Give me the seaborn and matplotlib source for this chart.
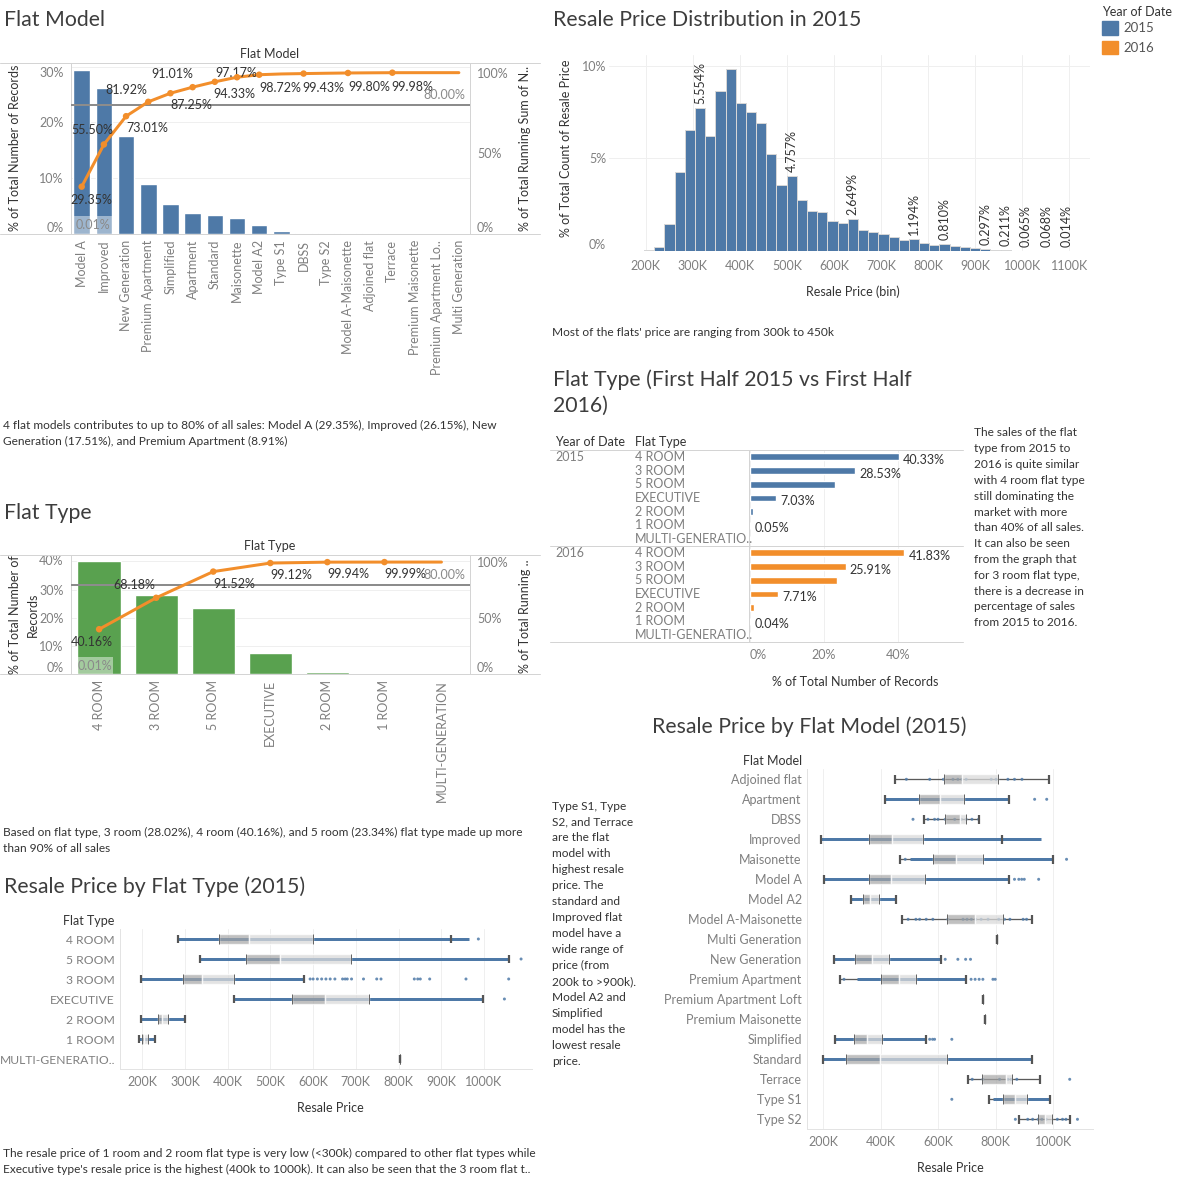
import numpy as np
import pandas as pd
import matplotlib
matplotlib.use("Agg")
import matplotlib.pyplot as plt
import matplotlib.transforms as mtransforms
from matplotlib.lines import Line2D
from matplotlib.patches import Rectangle
import seaborn as sns

# ---------------- data ----------------
model_names = ["Model A", "Improved", "New Generation", "Premium Apartment", "Simplified",
               "Apartment", "Standard", "Maisonette", "Model A2", "Type S1", "DBSS", "Type S2",
               "Model A-Maisonette", "Adjoined flat", "Terrace", "Premium Maisonette",
               "Premium Apartment Lo..", "Multi Generation"]
model_share = [29.35, 26.15, 17.51, 8.91, 5.33, 3.76, 3.32, 2.84, 1.55, 0.48, 0.23, 0.20,
               0.17, 0.10, 0.08, 0.01, 0.005, 0.005]
model_labeled = [0, 1, 2, 3, 4, 5, 6, 7, 8, 10, 12, 14]

type_names = ["4 ROOM", "3 ROOM", "5 ROOM", "EXECUTIVE", "2 ROOM", "1 ROOM", "MULTI-GENERATION"]
type_share = [40.16, 28.02, 23.34, 7.60, 0.82, 0.05, 0.01]
type_labeled = [0, 1, 2, 3, 4, 5]

hist_bin_start = 196.2     # K
hist_bin_width = 21.66     # K
hist_pct = [0.03, 0.20, 1.46, 4.24, 6.51, 7.70, 6.19, 8.61, 9.80, 7.97, 7.48, 6.89, 5.25,
            3.54, 4.03, 2.73, 2.14, 2.09, 1.60, 1.49, 1.74, 1.12, 1.01, 0.92, 0.74, 0.59,
            0.63, 0.41, 0.31, 0.36, 0.25, 0.20, 0.14, 0.09, 0.05, 0.05, 0.02, 0.02, 0.0,
            0.02, 0.0, 0.01]
hist_label_bins = [5, 14, 20, 26, 29, 33, 35, 37, 39, 41]
hist_label_text = ["5.554%", "4.757%", "2.649%", "1.194%", "0.810%", "0.297%", "0.211%",
                   "0.065%", "0.068%", "0.014%"]

half_years = ["2015", "2016"]
half_types = ["4 ROOM", "3 ROOM", "5 ROOM", "EXECUTIVE", "2 ROOM", "1 ROOM", "MULTI-GENERATIO.."]
half_2015 = [40.33, 28.53, 23.10, 7.03, 0.93, 0.05, 0.03]
half_2016 = [41.83, 25.91, 23.45, 7.71, 1.04, 0.04, 0.02]
half_labeled = [0, 1, 3, 5]

bt_names = ["4 ROOM", "5 ROOM", "3 ROOM", "EXECUTIVE", "2 ROOM", "1 ROOM", "MULTI-GENERATIO.."]
bt_low = [284, 335, 198, 415, 198, 193, 803]
bt_q1 = [379, 442, 295, 550, 236, 200, 803]
bt_med = [450, 523, 340, 628, 245, 205, 803]
bt_q3 = [599, 689, 414, 732, 261, 214, 803]
bt_high = [923, 1059, 579, 998, 301, 230, 803]
bt_band_lo = [284, 335, 198, 415, 198, 193, None]
bt_band_hi = [964, 1059, 579, 998, 301, 230, None]
bt_points = [[987], [1087],
             [593, 600, 610, 620, 630, 640, 651, 669, 675, 680, 690, 718, 749, 759, 837, 845,
              851, 873, 958, 1058],
             [1048], [], [], []]

bm_names = ["Adjoined flat", "Apartment", "DBSS", "Improved", "Maisonette", "Model A",
            "Model A2", "Model A-Maisonette", "Multi Generation", "New Generation",
            "Premium Apartment", "Premium Apartment Loft", "Premium Maisonette", "Simplified",
            "Standard", "Terrace", "Type S1", "Type S2"]
bm_low = [449, 414, 549, 192, 468, 203, 296, 475, 803, 237, 258, 756, 762, 239, 198, 705, 777, 879]
bm_q1 = [620, 533, 624, 360, 581, 360, 339, 631, 803, 311, 401, 756, 762, 308, 280, 751, 824, 947]
bm_med = [681, 605, 677, 440, 662, 437, 364, 729, 803, 369, 462, 756, 762, 351, 397, 836, 865, 970]
bm_q3 = [807, 688, 695, 547, 755, 554, 394, 824, 803, 429, 523, 756, 762, 405, 630, 857, 907, 994]
bm_high = [984, 847, 743, 822, 998, 847, 452, 926, 803, 609, 697, 756, 762, 556, 926, 955, 988, 1058]
bm_band_lo = [None, 414, None, 192, 500, 203, 296, None, None, 237, 316, None, None, 239, 198, None, 790, None]
bm_band_hi = [None, 847, None, 957, 998, 847, 452, None, None, 609, 697, None, None, 556, 926, None, 986, None]
bm_points = [[489, 570, 618, 651, 668, 682, 697, 784, 801, 842, 865, 891],
             [935, 977],
             [512, 564, 587, 599, 624, 657, 680, 697, 717, 740],
             [],
             [485, 1046],
             [865, 880, 890, 899, 949],
             [],
             [495, 522, 535, 558, 581, 633, 686, 700, 715, 730, 749, 773, 810, 830, 849, 895, 907],
             [],
             [624, 668, 695, 712],
             [272, 714, 728, 742, 755, 790, 798],
             [], [],
             [570, 580, 587, 647],
             [],
             [718, 755, 813, 842, 853, 873, 1057],
             [647],
             [868, 911, 928, 947, 960, 975, 1014, 1032, 1044, 1084]]

# ---------------- style ----------------
BLUE, ORANGE, GREEN = "#4e79a7", "#f28e2b", "#59a14f"
TXT, GRAY, LINE, GRID = "#333333", "#7f7f7f", "#d4d4d4", "#efefef"
BODY = 8.6
sns.set_theme(style="white")
plt.rcParams["font.family"] = ["Lato", "DejaVu Sans"]

fig = plt.figure(figsize=(11.84, 11.84), dpi=100)
W = H = 1184.0
PX = 0.72  # points per pixel


def R(x0, y0, x1, y1):
    return [x0 / W, 1 - y1 / H, (x1 - x0) / W, (y1 - y0) / H]


def T(x, y, s, **kw):
    kw.setdefault("color", TXT)
    kw.setdefault("fontsize", BODY)
    kw.setdefault("va", "center")
    fig.text(x / W, 1 - y / H, s, **kw)


def L(x0, y0, x1, y1, color=LINE, lw=1.0):
    fig.add_artist(Line2D([x0 / W, x1 / W], [1 - y0 / H, 1 - y1 / H], color=color,
                          lw=lw * PX, transform=fig.transFigure))


def pareto(box, names, share, labeled, offsets, color, lmax, lticks, rmax, width, hl,
           top_va, header, header_y):
    x0, y0, x1, y1 = box
    ax = fig.add_axes(R(*box))
    n = len(names)
    df = pd.DataFrame({"name": names, "share": share})
    sns.barplot(data=df, x="name", y="share", order=names, color=color, saturation=1,
                width=width, ax=ax)
    run = np.cumsum(share)
    ax.set_ylim(0, lmax)
    ax.set_yticks(lticks)
    ax.set_yticklabels([f"{t}%" for t in lticks])
    ax.set_xticks(range(n))
    ax.set_xticklabels(names, rotation=90)
    ax.set_xticks(np.arange(n + 1) - 0.5, minor=True)
    ax.tick_params(axis="x", which="major", length=0, pad=6 * PX, labelsize=9, labelcolor=GRAY)
    ax.tick_params(axis="x", which="minor", length=4, width=PX, color="#e3e3e3")
    ax.tick_params(axis="y", length=0, pad=7 * PX, labelsize=9, labelcolor=GRAY)
    labs = ax.get_yticklabels()
    labs[0].set_va("bottom")
    labs[-1].set_va(top_va)
    ax.yaxis.grid(True, color=GRID, lw=PX)
    ax.xaxis.grid(False)
    ax.set_axisbelow(True)
    ax.set_xlabel("")
    ax.set_ylabel("")
    for s in ax.spines.values():
        s.set_color(LINE)
        s.set_linewidth(PX)
    ax.add_patch(Rectangle((hl[0], 0), hl[1] - hl[0], hl[2], facecolor="white", alpha=0.45,
                           edgecolor="none", zorder=5))
    ax.text((hl[0] + hl[1]) / 2, hl[2] / 2, "0.01%", ha="center", va="center", fontsize=9,
            color="#8a8a8a", zorder=6)

    ax2 = ax.twinx()
    sns.lineplot(x=np.arange(n), y=run, ax=ax2, color=ORANGE, linewidth=3 * PX)
    idx = np.array(labeled)
    sns.scatterplot(x=idx, y=run[idx], ax=ax2, color=ORANGE, s=(6.5 * PX) ** 2,
                    edgecolor="none", zorder=4)
    ax2.axhline(80, color="#8c8c8c", lw=2 * PX, zorder=1)
    ax2.set_ylim(0, rmax)
    ax2.set_yticks([0, 50, 100])
    ax2.set_yticklabels(["0%", "50%", "100%"])
    ax2.tick_params(axis="y", length=0, pad=7 * PX, labelsize=9, labelcolor=GRAY)
    ax2.get_yticklabels()[0].set_va("bottom")
    ax2.set_xlabel("")
    ax2.set_ylabel("")
    for s in ax2.spines.values():
        s.set_visible(False)
    for k, (dx, dy) in zip(labeled, offsets):
        ax2.annotate(f"{run[k]:.2f}%", (k, run[k]), xytext=(dx * PX, -dy * PX),
                     textcoords="offset points", ha="center", va="center", fontsize=9,
                     color=TXT)
    ax2.annotate("80.00%", xy=(1, 80), xycoords=("axes fraction", "data"),
                 xytext=(-5 * PX, 9.5 * PX), textcoords="offset points", ha="right",
                 va="center", fontsize=9, color="#8a8a8a")
    ax.set_xlim(-0.5, n - 0.5)
    L(0, y0, 540, y0)
    L(0, y1, 540, y1)
    T(270, header_y, header, ha="center", fontsize=9)
    return ax


def boxes(box, names, low, q1, med, q3, high, blo, bhi, pts, xlim, ticks, header, header_x,
          header_y, rowsize=9):
    ax = fig.add_axes(R(*box))
    n = len(names)
    for i in range(n):
        if blo[i] is not None:
            ax.hlines(i, blo[i], bhi[i], color=BLUE, lw=3.0 * PX, zorder=3)
        ax.hlines(i, low[i], high[i], color="#5a5a5a", lw=1.3 * PX, zorder=2)
        ax.barh(i, med[i] - q1[i], left=q1[i], height=0.5, color="#a6a6a6", alpha=0.7,
                zorder=5)
        ax.barh(i, q3[i] - med[i], left=med[i], height=0.5, color="#dadada", alpha=0.75,
                zorder=5)
        ax.vlines([q1[i], q3[i]], i - 0.25, i + 0.25, color="#666666", lw=1 * PX, zorder=6)
        ax.vlines([low[i], high[i]], i - 0.22, i + 0.22, color="#555555", lw=2.2 * PX,
                  zorder=6)
    px_, py_ = [], []
    for i, p in enumerate(pts):
        px_ += list(p)
        py_ += [i] * len(p)
    dpts = pd.DataFrame({"price": px_, "row": py_})
    sns.scatterplot(data=dpts, x="price", y="row", ax=ax, color=BLUE, s=(3 * PX) ** 2,
                    edgecolor="none", alpha=0.85, zorder=4)
    ax.set_xlim(*xlim)
    ax.set_ylim(n - 0.5, -0.5)
    ax.set_yticks(range(n))
    ax.set_yticklabels(names)
    ax.set_xticks(ticks)
    ax.set_xticklabels([f"{t}K" for t in ticks])
    ax.tick_params(axis="y", length=0, pad=5 * PX, labelsize=rowsize, labelcolor=GRAY)
    ax.tick_params(axis="x", length=0, pad=7 * PX, labelsize=9, labelcolor=GRAY)
    ax.xaxis.grid(True, color=GRID, lw=PX)
    ax.yaxis.grid(False)
    ax.set_axisbelow(True)
    ax.set_xlabel("")
    ax.set_ylabel("")
    for k in ["top", "right"]:
        ax.spines[k].set_visible(False)
    for k in ["left", "bottom"]:
        ax.spines[k].set_color("#e3e3e3")
        ax.spines[k].set_linewidth(PX)
    T(header_x, header_y, header, ha="right", fontsize=9)
    return ax


# ---------------- titles ----------------
TITLE = dict(fontsize=15.3, color="#3d3d3d")
T(4, 20.5, "Flat Model", **TITLE)
T(553, 20.5, "Resale Price Distribution in 2015", **TITLE)
T(553, 380, "Flat Type (First Half 2015 vs First Half", **TITLE)
T(553, 406, "2016)", **TITLE)
T(4, 513, "Flat Type", **TITLE)
T(4, 887, "Resale Price by Flat Type (2015)", **TITLE)
T(652, 727, "Resale Price by Flat Model (2015)", **TITLE)

# ---------------- Pareto: flat model ----------------
pareto((70.6, 63.3, 470, 234), model_names, model_share, model_labeled,
       [(10, 13), (-12, -14), (21, 12), (-22, -12), (21, 12), (-20, -13), (20, 12), (-1, -4),
        (21, 13), (20, 14), (21, 14), (20, 14)],
       BLUE, 30.6, [0, 10, 20, 30], 105.8, 0.745, (-0.39, 1.41, 3.3), "top",
       "Flat Model", 54)
T(15.5, 148, "% of Total Number of Records", rotation=90, ha="center", fontsize=9)
T(525, 148, "% of Total Running Sum of N..", rotation=90, ha="center", fontsize=9)
T(3, 425, "4 flat models contributes to up to 80% of all sales: Model A (29.35%), Improved (26.15%), New")
T(3, 441, "Generation (17.51%), and Premium Apartment (8.91%)")

# ---------------- Pareto: flat type ----------------
pareto((70.6, 555, 470, 674.3), type_names, type_share, type_labeled,
       [(-7, 13), (-22, -13), (21, 12.5), (21, 12), (21, 12), (21, 12)],
       GREEN, 42.3, [0, 10, 20, 30, 40], 106.3, 0.76, (-0.4, 0.24, 6.1), "center",
       "Flat Type", 545.7)
T(15.5, 615, "% of Total Number of", rotation=90, ha="center", fontsize=9)
T(32.5, 615, "Records", rotation=90, ha="center", fontsize=9)
T(525, 616.5, "% of Total Running ..", rotation=90, ha="center", fontsize=9)
T(3, 832, "Based on flat type, 3 room (28.02%), 4 room (40.16%), and 5 room (23.34%) flat type made up more")
T(3, 848, "than 90% of all sales")

# ---------------- Histogram ----------------
axh = fig.add_axes(R(609, 55, 1090, 251))
nb = len(hist_pct)
edges = hist_bin_start + hist_bin_width * np.arange(nb + 1)
centers = (edges[:-1] + edges[1:]) / 2
dfh = pd.DataFrame({"price": centers, "pct": hist_pct})
sns.histplot(data=dfh, x="price", weights="pct", binwidth=hist_bin_width,
             binrange=(float(edges[0]), float(edges[-1])), ax=axh, color=BLUE,
             edgecolor="#d6d6d6", linewidth=1 * PX, alpha=1, zorder=2)
axh.set_xlim(121.8, 1144.3)
axh.set_ylim(0, 10.58)
xt = list(range(200, 1101, 100))
axh.set_xticks(xt)
axh.set_xticklabels([f"{t}K" for t in xt])
axh.set_yticks([0, 5, 10])
axh.set_yticklabels(["0%", "5%", "10%"])
axh.get_yticklabels()[0].set_va("bottom")
axh.tick_params(axis="x", length=0, pad=9 * PX, labelsize=9, labelcolor=GRAY)
axh.tick_params(axis="y", length=0, pad=3 * PX, labelsize=9, labelcolor=GRAY)
axh.grid(True, color=GRID, lw=PX)
axh.set_axisbelow(True)
axh.axhline(0, color="#d8d8d8", lw=PX, zorder=1)
for s in axh.spines.values():
    s.set_visible(False)
axh.set_xlabel("")
axh.set_ylabel("")
for b, s in zip(hist_label_bins, hist_label_text):
    axh.annotate(s, (centers[b], hist_pct[b]), xytext=(0, 4 * PX), textcoords="offset points",
                 rotation=90, ha="center", va="bottom", fontsize=9, color=TXT)
T(565.8, 148.3, "% of Total Count of Resale Price", rotation=90, ha="center", fontsize=9)
T(852.4, 291.7, "Resale Price (bin)", ha="center", fontsize=9)
T(552, 332, "Most of the flats' price are ranging from 300k to 450k")

# ---------------- First-half flat type ----------------
axf = fig.add_axes(R(749, 450, 963, 642))
rows, yrs, vals = [], [], []
for y, vs in zip(half_years, [half_2015, half_2016]):
    for t, v in zip(half_types, vs):
        rows.append(f"{y}|{t}")
        yrs.append(y)
        vals.append(v)
dff = pd.DataFrame({"row": rows, "year": yrs, "pct": vals})
sns.barplot(data=dff, y="row", x="pct", hue="year", order=rows,
            palette={"2015": BLUE, "2016": ORANGE}, dodge=False, width=0.5, saturation=1,
            orient="h", legend=False, ax=axf)
axf.set_xlim(-0.27, 57.7)
axf.set_ylim(len(rows) - 0.5, -0.5)
axf.set_yticks([])
axf.set_xticks([0, 20, 40])
axf.set_xticklabels(["0%", "20%", "40%"])
axf.get_xticklabels()[0].set_ha("left")
axf.tick_params(axis="x", length=0, pad=7 * PX, labelsize=9, labelcolor=GRAY)
axf.xaxis.grid(True, color=GRID, lw=PX)
axf.yaxis.grid(False)
axf.set_axisbelow(True)
axf.set_xlabel("")
axf.set_ylabel("")
for k in ["top", "right", "bottom"]:
    axf.spines[k].set_visible(False)
axf.spines["left"].set_color(LINE)
axf.spines["left"].set_linewidth(PX)
bt = mtransforms.blended_transform_factory(fig.transFigure, axf.transData)
for r, (y, t, v) in enumerate(zip(yrs, [r_.split("|")[1] for r_ in rows], vals)):
    fig.text(635 / W, r, t, transform=bt, ha="left", va="center", fontsize=9, color=GRAY)
    if r % len(half_types) == 0:
        fig.text(555 / W, r, y, transform=bt, ha="left", va="center", fontsize=9, color=GRAY)
    if (r % len(half_types)) in half_labeled:
        axf.annotate(f"{v:.2f}%", (v, r), xytext=(4 * PX, -3 * PX), textcoords="offset points",
                     ha="left", va="center", fontsize=9, color=TXT)
L(550, 450, 963, 450)
L(550, 546, 963, 546)
L(550, 642, 963, 642)
T(555, 442, "Year of Date", fontsize=9)
T(635, 442, "Flat Type", fontsize=9)
T(855, 681.7, "% of Total Number of Records", ha="center", fontsize=9)

right_text = ["The sales of the flat", "type from 2015 to", "2016 is quite similar",
              "with 4 room flat type", "still dominating the", "market with more",
              "than 40% of all sales.", "It can also be seen", "from the graph that",
              "for 3 room flat type,", "there is a decrease in", "percentage of sales",
              "from 2015 to 2016."]
for i, s in enumerate(right_text):
    T(974, 433 + 15.8 * i, s)

# ---------------- Box plots ----------------
boxes((120, 929, 532, 1069), bt_names, bt_low, bt_q1, bt_med, bt_q3, bt_high, bt_band_lo,
      bt_band_hi, bt_points, (147.8, 1112.6), list(range(200, 1001, 100)), "Flat Type", 114.7,
      920.7, rowsize=8.7)
T(330, 1108, "Resale Price", ha="center", fontsize=9)
T(3, 1153, "The resale price of 1 room and 2 room flat type is very low (<300k) compared to other flat types while")
T(3, 1169, "Executive type's resale price is the highest (400k to 1000k). It can also be seen that the 3 room flat t..")

boxes((806.7, 769.3, 1093, 1129.3), bm_names, bm_low, bm_q1, bm_med, bm_q3, bm_high,
      bm_band_lo, bm_band_hi, bm_points, (142.3, 1138), [200, 400, 600, 800, 1000],
      "Flat Model", 801.7, 760.7)
T(950, 1168.3, "Resale Price", ha="center", fontsize=9)

mid_text = ["Type S1, Type", "S2, and Terrace", "are the flat", "model with", "highest resale",
            "price. The", "standard and", "Improved flat", "model have a", "wide range of",
            "price (from", "200k to >900k).", "Model A2 and", "Simplified", "model has the",
            "lowest resale", "price."]
for i, s in enumerate(mid_text):
    T(552, 806 + 15.94 * i, s)

# ---------------- legend ----------------
T(1101.7, 11.7, "Year of Date", fontsize=9)
for y0, c, lab in [(21, BLUE, "2015"), (40.7, ORANGE, "2016")]:
    fig.add_artist(Rectangle((1101.7 / W, 1 - (y0 + 13.5) / H), 16 / W, 13.5 / H,
                             transform=fig.transFigure, color=c))
    T(1123, y0 + 7, lab, fontsize=9.5, color="#555555")

fig.savefig("out.png", dpi=100, facecolor="white")
